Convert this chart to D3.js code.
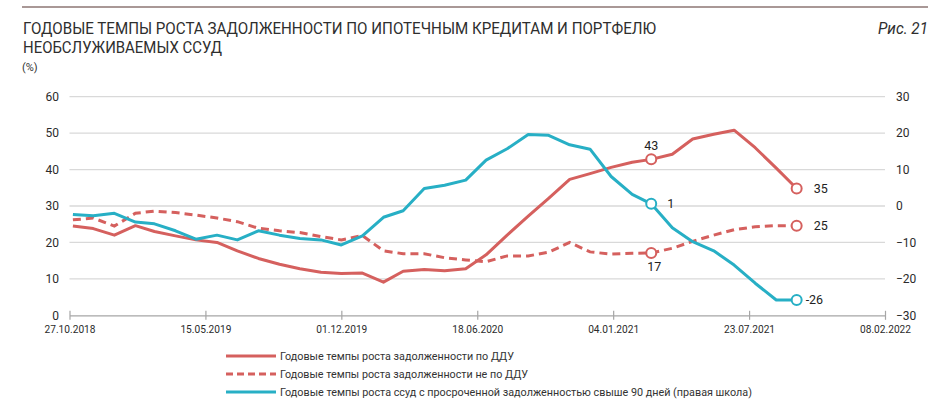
<!DOCTYPE html>
<html>
<head>
<meta charset="utf-8">
<script src="https://cdn.jsdelivr.net/npm/d3@7"></script>
<style>
  html, body { margin: 0; padding: 0; background: #fff; }
  svg { display: block; font-family: Roboto, "Noto Sans", sans-serif; }
</style>
</head>
<body>
<svg id="chart" width="950" height="412"></svg>
<script>
// ---- data ----
const dates = [
  "2018-11-01","2018-12-01","2019-01-01","2019-02-01","2019-03-01","2019-04-01",
  "2019-05-01","2019-06-01","2019-07-01","2019-08-01","2019-09-01","2019-10-01",
  "2019-11-01","2019-12-01","2020-01-01","2020-02-01","2020-03-01","2020-04-01",
  "2020-05-01","2020-06-01","2020-07-01","2020-08-01","2020-09-01","2020-10-01",
  "2020-11-01","2020-12-01","2021-01-01","2021-02-01","2021-03-01","2021-04-01",
  "2021-05-01","2021-06-01","2021-07-01","2021-08-01","2021-09-01","2021-10-01"
];
const dduGrowth = [
  24.5, 23.8, 22.0, 24.6, 23.0, 21.8, 20.7, 20.0, 17.7, 15.6, 14.0, 12.8,
  11.8, 11.5, 11.6, 9.1, 12.1, 12.6, 12.2, 12.8, 16.6, 22.0, 27.2, 32.1,
  37.3, 38.9, 40.6, 42.0, 42.8, 44.2, 48.4, 49.7, 50.8, 46.0, 40.4, 34.8
];
const nonDduGrowth = [
  26.2, 26.7, 24.5, 28.0, 28.6, 28.2, 27.5, 26.7, 25.7, 23.9, 23.2, 22.7,
  21.6, 20.7, 21.9, 17.7, 16.9, 16.9, 15.8, 15.2, 14.7, 16.3, 16.3, 17.3,
  20.0, 17.4, 16.8, 17.0, 17.1, 18.4, 20.3, 22.0, 23.5, 24.3, 24.6, 24.6
];
const overdueGrowth = [ // right axis
  -2.3, -2.7, -2.0, -4.4, -4.9, -6.8, -9.1, -8.0, -9.3, -6.8, -8.0, -8.9,
  -9.3, -10.7, -8.2, -3.1, -1.3, 4.8, 5.7, 7.1, 12.6, 15.7, 19.6, 19.4,
  16.8, 15.6, 8.1, 3.2, 0.6, -6.0, -9.8, -12.3, -16.2, -21.2, -25.8, -25.8
];
const xTickDates = ["2018-10-27","2019-05-15","2019-12-01","2020-06-18","2021-01-04","2021-07-23","2022-02-08"];
const xTickLabels = ["27.10.2018","15.05.2019","01.12.2019","18.06.2020","04.01.2021","23.07.2021","08.02.2022"];
const leftTicks = [0, 10, 20, 30, 40, 50, 60];
const rightTicks = [-30, -20, -10, 0, 10, 20, 30];
const markedIdx = [28, 35];
const dduLabels = ["43", "35"];
const nonDduLabels = ["17", "25"];
const overdueLabels = ["1", "-26"];
const titleLines = ["ГОДОВЫЕ ТЕМПЫ РОСТА ЗАДОЛЖЕННОСТИ ПО ИПОТЕЧНЫМ КРЕДИТАМ И ПОРТФЕЛЮ", "НЕОБСЛУЖИВАЕМЫХ ССУД"];
const legendLabels = [
  "Годовые темпы роста задолженности по ДДУ",
  "Годовые темпы роста задолженности не по  ДДУ",
  "Годовые темпы роста ссуд с просроченной задолженностью свыше 90 дней (правая школа)"
];

// ---- drawing ----
const parse = d3.timeParse("%Y-%m-%d");
const dts = dates.map(parse);
const svg = d3.select("#chart");
const RED = "#d5605e", BLUE = "#27afc5", TXT = "#2b2b2b";

const x = d3.scaleTime().domain([parse(xTickDates[0]), parse(xTickDates[xTickDates.length-1])]).range([69.5, 885]);
const yL = d3.scaleLinear().domain([0, 60]).range([315.3, 96.7]);
const yR = d3.scaleLinear().domain([-30, 30]).range([315.3, 96.7]);

// top rule
svg.append("line").attr("x1", 22).attr("x2", 928).attr("y1", 7).attr("y2", 7)
  .attr("stroke", "#8c7673").attr("stroke-width", 1.5);

// title
svg.append("text").attr("x", 23).attr("y", 34).attr("font-size", 16).attr("fill", "#2e2e2e")
  .attr("textLength", 633).attr("lengthAdjust", "spacingAndGlyphs").text(titleLines[0]);
svg.append("text").attr("x", 23).attr("y", 53).attr("font-size", 16).attr("fill", "#2e2e2e")
  .attr("textLength", 199).attr("lengthAdjust", "spacingAndGlyphs").text(titleLines[1]);
svg.append("text").attr("x", 22).attr("y", 71).attr("font-size", 11).attr("fill", "#333").text("(%)");
svg.append("text").attr("x", 928).attr("y", 34).attr("font-size", 16).attr("font-style", "italic")
  .attr("text-anchor", "end").attr("fill", "#2e2e2e").attr("textLength", 50).attr("lengthAdjust", "spacingAndGlyphs").text("Рис. 21");

// gridlines
svg.append("g").selectAll("line").data(leftTicks.filter(d => d > 0)).join("line")
  .attr("x1", x.range()[0]).attr("x2", x.range()[1])
  .attr("y1", d => yL(d)).attr("y2", d => yL(d))
  .attr("stroke", "#d9d9d9").attr("stroke-width", 1.3);

// bottom axis
const xAxis = d3.axisBottom(x).tickValues(xTickDates.map(parse)).tickSize(0).tickFormat((d, i) => xTickLabels[i]);
const gx = svg.append("g").attr("transform", `translate(0,${yL(0)})`).call(xAxis);
gx.select(".domain").attr("stroke", "#a6a6a6").attr("stroke-width", 1.2);
gx.selectAll(".tick text").attr("font-size", 11.5).attr("fill", TXT).attr("y", 18).attr("dy", 0)
  .attr("font-family", "Roboto").attr("textLength", 51).attr("lengthAdjust", "spacingAndGlyphs");
gx.selectAll(".tick").append("line").attr("y1", -4.5).attr("y2", 4.5).attr("stroke", "#a6a6a6").attr("stroke-width", 1.2);

// left axis
const gl = svg.append("g").attr("transform", `translate(59,0)`)
  .call(d3.axisLeft(yL).tickValues(leftTicks).tickSize(0).tickPadding(0));
gl.select(".domain").remove();
gl.selectAll(".tick text").attr("font-size", 12).attr("fill", TXT).attr("font-family", "Roboto");

// right axis
const gr = svg.append("g").attr("transform", `translate(896,0)`)
  .call(d3.axisRight(yR).tickValues(rightTicks).tickSize(0).tickPadding(0));
gr.select(".domain").remove();
gr.selectAll(".tick text").attr("font-size", 12).attr("fill", TXT).attr("font-family", "Roboto");

// lines
const lineL = vals => d3.line().x((d, i) => x(dts[i])).y(d => yL(d))(vals);
const lineR = vals => d3.line().x((d, i) => x(dts[i])).y(d => yR(d))(vals);

svg.append("path").attr("d", lineL(nonDduGrowth)).attr("fill", "none").attr("stroke", RED)
  .attr("stroke-width", 3).attr("stroke-dasharray", "8,5");
svg.append("path").attr("d", lineL(dduGrowth)).attr("fill", "none").attr("stroke", RED)
  .attr("stroke-width", 3).attr("stroke-linejoin", "round");
svg.append("path").attr("d", lineR(overdueGrowth)).attr("fill", "none").attr("stroke", BLUE)
  .attr("stroke-width", 3).attr("stroke-linejoin", "round");

// markers
function markers(vals, scale, color) {
  svg.append("g").selectAll("circle").data(markedIdx).join("circle")
    .attr("cx", i => x(dts[i])).attr("cy", i => scale(vals[i])).attr("r", 5)
    .attr("fill", "#fff").attr("stroke", color).attr("stroke-width", 2);
}
markers(dduGrowth, yL, RED);
markers(nonDduGrowth, yL, RED);
markers(overdueGrowth, yR, BLUE);

// data labels
const lab = (px, py, t, anchor) => svg.append("text").attr("x", px).attr("y", py)
  .attr("font-size", 12.5).attr("fill", "#222").attr("text-anchor", anchor || "start").text(t);
lab(x(dts[28]), yL(dduGrowth[28]) - 9, dduLabels[0], "middle");
lab(x(dts[35]) + 17, yL(dduGrowth[35]) + 4.5, dduLabels[1]);
lab(x(dts[28]) + 3, yL(nonDduGrowth[28]) + 18, nonDduLabels[0], "middle");
lab(x(dts[35]) + 17, yL(nonDduGrowth[35]) + 4.5, nonDduLabels[1]);
lab(x(dts[28]) + 16, yR(overdueGrowth[28]) + 4.5, overdueLabels[0]);
lab(x(dts[35]) + 9, yR(overdueGrowth[35]) + 4.5, overdueLabels[1]);

// legend
const legY = [356, 374, 392];
const legLens = [234, 248, 472];
const leg = svg.append("g");
legendLabels.forEach((t, i) => {
  leg.append("line").attr("x1", 226).attr("x2", 276).attr("y1", legY[i]).attr("y2", legY[i])
    .attr("stroke", i === 2 ? BLUE : RED).attr("stroke-width", 3)
    .attr("stroke-dasharray", i === 1 ? "7,4" : null);
  leg.append("text").attr("x", 280).attr("y", legY[i] + 4).attr("font-size", 11.5).attr("fill", "#333")
    .attr("textLength", legLens[i]).attr("lengthAdjust", "spacingAndGlyphs").text(t);
});
</script>
</body>
</html>
